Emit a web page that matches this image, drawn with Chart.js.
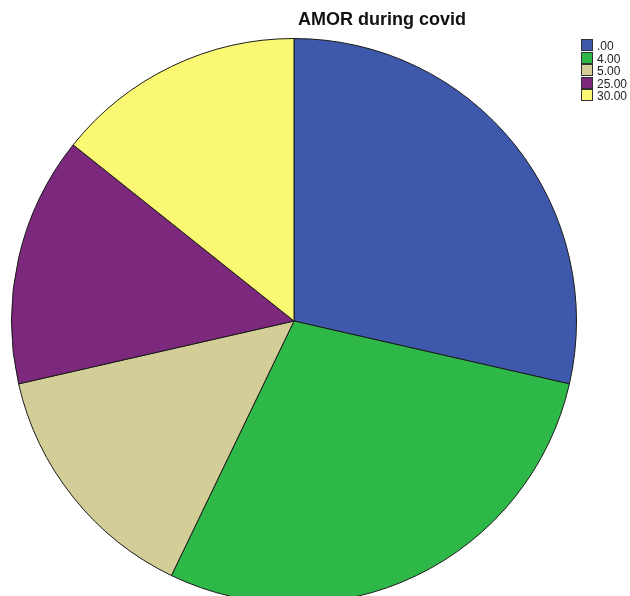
<!DOCTYPE html>
<html>
<head>
<meta charset="utf-8">
<script src="https://cdn.jsdelivr.net/npm/chart.js@4/dist/chart.umd.min.js"></script>
<style>
  html, body { margin: 0; padding: 0; background: #fff; overflow: hidden; }
  #wrap { position: relative; width: 630px; height: 596px; overflow: hidden; }
  #holder { position: absolute; left: 0; top: 0; width: 630px; height: 640px; }
  #title { position: absolute; left: 298px; top: 9px; white-space: nowrap;
           font: bold 18px "Liberation Sans", Arial, sans-serif; color: #111; }
  #legend { position: absolute; left: 581px; top: 39px;
            font: 12px "Liberation Sans", Arial, sans-serif; color: #222; }
  #legend div { height: 12.6px; line-height: 13px; white-space: nowrap; }
  #legend span { display: inline-block; width: 10px; height: 10px; border: 1px solid #333;
                 vertical-align: -1px; margin-right: 4px; }
</style>
</head>
<body>
<div id="wrap">
  <div id="holder"><canvas id="myChart"></canvas></div>
  <div id="title">AMOR during covid</div>
  <div id="legend"></div>
</div>
<script>
var labels = ['.00', '4.00', '5.00', '25.00', '30.00'];
var counts = [2, 2, 1, 1, 1];
var colors = ['#3E58AC', '#2EB848', '#D3CE97', '#7C287D', '#FBF873'];

// legend built from the same arrays
var legend = document.getElementById('legend');
for (var i = 0; i < labels.length; i++) {
    var row = document.createElement('div');
    var box = document.createElement('span');
    box.style.background = colors[i];
    row.appendChild(box);
    row.appendChild(document.createTextNode(labels[i]));
    legend.appendChild(row);
}

new Chart(document.getElementById('myChart'), {
    type: 'pie',
    data: {
        labels: labels,
        datasets: [{
            data: counts,
            backgroundColor: colors,
            borderColor: '#1a1a1a',
            borderWidth: 1
        }]
    },
    options: {
        responsive: true,
        maintainAspectRatio: false,
        animation: false,
        layout: { padding: { left: 11, right: 53, top: 38, bottom: 36 } },
        plugins: {
            legend: { display: false },
            title: { display: false },
            tooltip: { enabled: false }
        }
    }
});
</script>
</body>
</html>
